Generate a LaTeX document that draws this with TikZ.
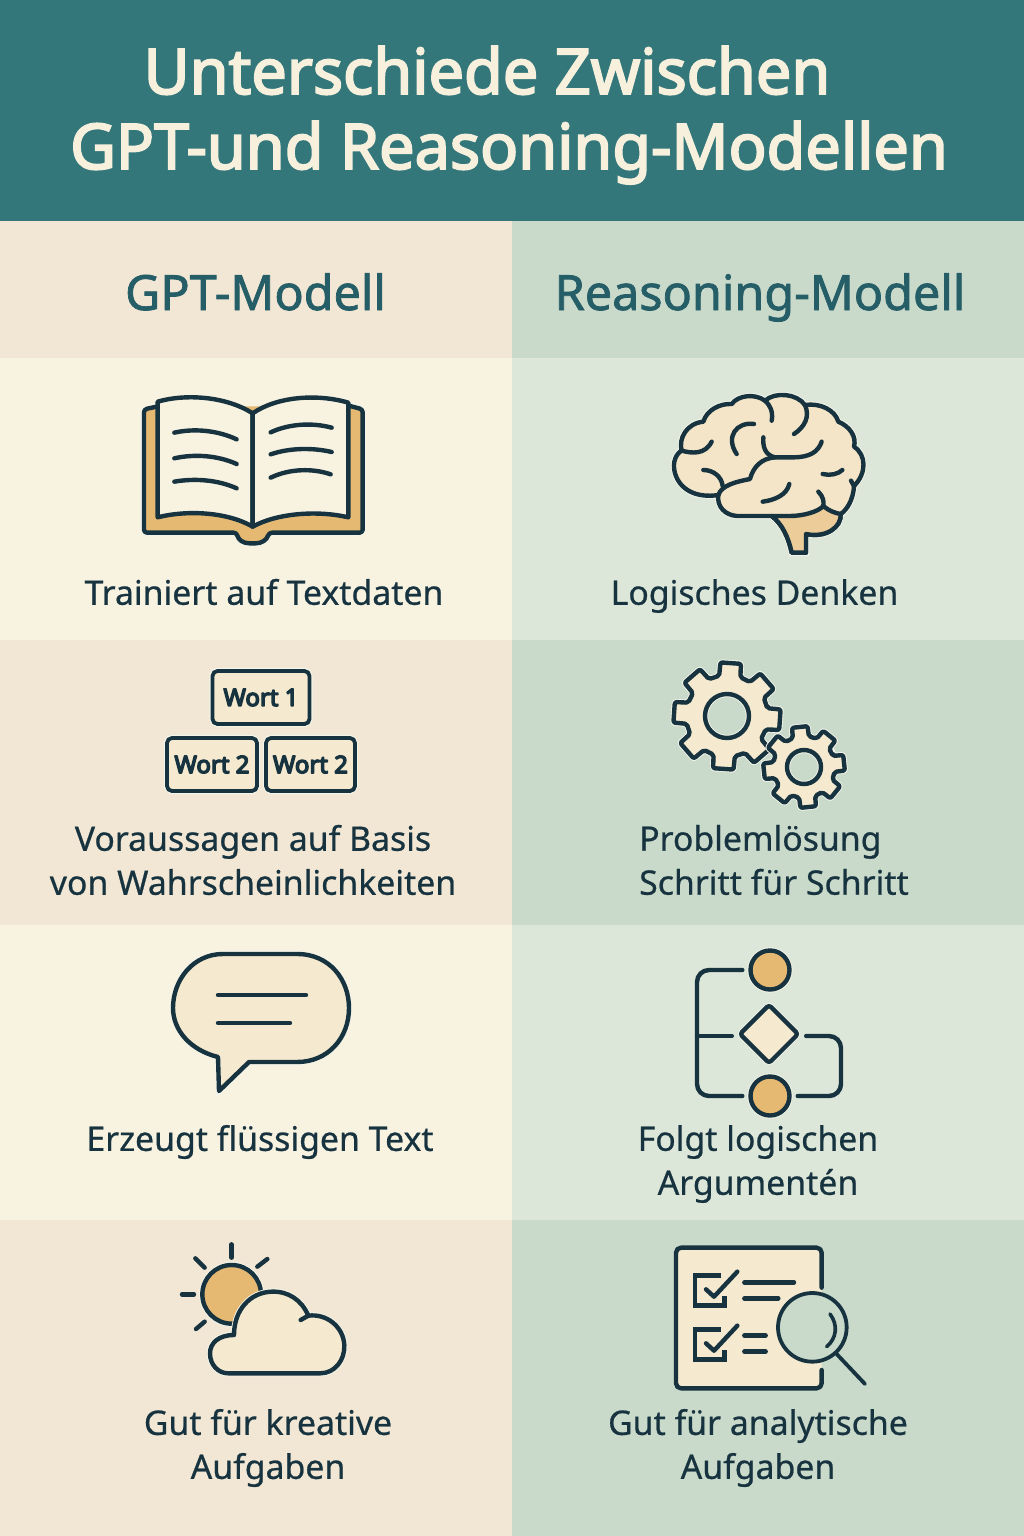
\documentclass[tikz,border=0pt]{standalone}
\usepackage{fontspec}
\setmainfont[FakeBold=0.6]{Noto Sans}
\newfontfamily\titlefont[FakeBold=3]{Noto Sans}
\newfontfamily\headfont[FakeBold=1.6]{Noto Sans}
\newfontfamily\wortfont[FakeBold=6]{Noto Sans}
\usetikzlibrary{calc,shapes.geometric}

\definecolor{titlebg}{HTML}{33777B}
\definecolor{titletext}{HTML}{F6F0DD}
\definecolor{headtext}{HTML}{265E68}
\definecolor{darkink}{HTML}{17333F}
\definecolor{creamL}{HTML}{F8F2E1}
\definecolor{creamD}{HTML}{F2E7D4}
\definecolor{sageL}{HTML}{DDE7D9}
\definecolor{sageD}{HTML}{C9DACB}
\definecolor{ochre}{HTML}{E6B973}
\definecolor{iconfill}{HTML}{F5E9CF}
\definecolor{halo}{HTML}{F4F5EA}

\tikzset{
  bodytext/.style={font=\fontsize{33.8}{44}\selectfont,text=darkink,align=center,inner sep=0pt},
  headtext/.style={font=\headfont\fontsize{48.5}{50}\selectfont,text=headtext,anchor=base,inner sep=0pt},
  titleline/.style={font=\titlefont\fontsize{63}{76}\selectfont,text=titletext,anchor=base,inner sep=0pt},
  icon/.style={draw=darkink,line width=4.4pt,line cap=round,line join=round},
  iconsolid/.style={icon,fill=#1,preaction={draw=halo,line width=6.2pt}},
  wortbox/.style={iconsolid=iconfill,rounded corners=5pt,minimum height=53pt,inner sep=0pt,text=darkink,
    font=\wortfont\fontsize{24}{28}\selectfont,line width=3.8pt},
}

% x y outer root hole rotation
\newcommand{\gearicon}[6]{
  \begin{scope}[shift={(#1,#2)}]
    \draw[iconsolid=iconfill,even odd rule,rounded corners=2pt] ({#6-15}:#4)
      \foreach \a in {0,45,...,315} {
        -- ({#6+\a-11}:#3) -- ({#6+\a+11}:#3) -- ({#6+\a+15}:#4) -- ({#6+\a+30}:#4)
      } -- cycle (0,0) circle (#5);
  \end{scope}
}

\begin{document}
\begin{tikzpicture}[x=1pt,y=-1pt]
  \useasboundingbox (0,0) rectangle (1024,1536);

  % panels
  \fill[titlebg] (0,0) rectangle (1024,221);
  \foreach \ya/\yb/\colleft/\colright in {221/358/creamD/sageD,358/640/creamL/sageL,640/925/creamD/sageD,925/1220/creamL/sageL,1220/1536/creamD/sageD} {
    \fill[\colleft] (0,\ya) rectangle (512,\yb);
    \fill[\colright] (512,\ya) rectangle (1024,\yb);
  }

  % title
  \node[titleline] (titleone) at (487,94) {Unterschiede Zwischen};
  \node[titleline] (titletwo) at (509,169) {GPT-und Reasoning-Modellen};
  \node[headtext] (headgpt) at (255.5,310) {GPT-Modell};
  \node[headtext] (headreason) at (760,310) {Reasoning-Modell};

  % row texts
  \node[bodytext] (textdata) at (264,592) {Trainiert auf Textdaten};
  \node[bodytext] (logic) at (754.5,596) {Logisches Denken};
  \node[bodytext] (predict) at (253,860) {Voraussagen auf Basis\\von Wahrscheinlichkeiten};
  \node[bodytext,align=left,anchor=west] (steps) at (639,860) {Problemlösung\\Schritt für Schritt};
  \node[bodytext] (fluent) at (260,1142) {Erzeugt flüssigen Text};
  \node[bodytext] (follow) at (758,1164) {Folgt logischen\\Argumentén};
  \node[bodytext] (creative) at (268,1448) {Gut für kreative\\Aufgaben};
  \node[bodytext] (analytic) at (758,1448) {Gut für analytische\\Aufgaben};

  % book
  \begin{scope}[shift={(120,380)},scale=1/3]
    \draw[iconsolid=ochre,rounded corners=3pt] (110,80) -- (72,88) -- (72,458) -- (350,458)
      .. controls (355,480) and (370,490) .. (398,490) .. controls (425,490) and (440,480) .. (447,458)
      -- (728,458) -- (728,88) -- (690,78);
    \draw[icon,fill=creamL] (113,65) .. controls (200,40) and (320,50) .. (398,100) -- (398,440)
      .. controls (320,395) and (200,390) .. (113,412) -- cycle;
    \draw[icon,fill=creamL] (398,100) .. controls (470,50) and (590,40) .. (685,68) -- (685,412)
      .. controls (590,390) and (470,400) .. (398,440) -- cycle;
    \draw[icon] (163,158) .. controls (220,145) and (290,150) .. (350,178);
    \draw[icon] (163,235) .. controls (220,222) and (290,225) .. (350,252);
    \draw[icon] (163,305) .. controls (220,295) and (290,298) .. (350,325);
    \draw[icon] (452,157) .. controls (510,130) and (580,128) .. (635,143);
    \draw[icon] (452,223) .. controls (510,203) and (580,203) .. (635,216);
    \draw[icon] (452,293) .. controls (510,265) and (580,265) .. (632,283);
  \end{scope}

  % brain
  \begin{scope}[shift={(650,380)},scale=1/3]
    \draw[iconsolid=iconfill!92!ochre] (95,212) .. controls (85,175) and (110,130) .. (160,125)
      .. controls (170,90) and (210,70) .. (245,72)
      .. controls (265,45) and (315,40) .. (345,62)
      .. controls (375,35) and (440,40) .. (465,75)
      .. controls (510,68) and (555,90) .. (565,125)
      .. controls (600,140) and (620,170) .. (612,200)
      .. controls (650,225) and (650,280) .. (612,318)
      .. controls (610,360) and (590,390) .. (572,402)
      .. controls (575,440) and (530,475) .. (468,462)
      -- (468,518) -- (425,518)
      .. controls (415,470) and (395,430) .. (365,408)
      -- (260,408) .. controls (225,405) and (200,380) .. (205,345)
      .. controls (140,355) and (90,330) .. (75,280)
      .. controls (65,245) and (80,220) .. (95,212) -- cycle;
    \draw[icon,fill=ochre!60!iconfill] (365,408) -- (420,408) .. controls (460,408) and (505,395) .. (520,378)
      .. controls (540,395) and (560,400) .. (572,402)
      .. controls (575,440) and (530,475) .. (468,462)
      -- (468,518) -- (425,518)
      .. controls (415,470) and (395,430) .. (365,408) -- cycle;
    \draw[icon] (95,212) .. controls (125,220) and (165,225) .. (185,185);
    \draw[icon] (160,270) .. controls (190,270) and (215,290) .. (218,318);
    \draw[icon] (205,345) .. controls (215,315) and (260,305) .. (300,297)
      .. controls (310,260) and (335,235) .. (375,232) -- (430,232)
      .. controls (480,232) and (505,215) .. (515,185);
    \draw[icon] (340,172) .. controls (338,200) and (345,225) .. (375,232);
    \draw[icon] (312,132) .. controls (260,125) and (225,170) .. (260,222);
    \draw[icon] (345,62) .. controls (360,75) and (370,95) .. (365,122);
    \draw[icon] (465,75) .. controls (480,110) and (465,140) .. (432,162);
    \draw[icon] (518,282) .. controls (540,288) and (565,282) .. (577,270);
    \draw[icon] (603,302) -- (612,318);
    \draw[icon] (338,365) .. controls (375,360) and (410,345) .. (418,312);
    \draw[icon] (505,335) .. controls (520,350) and (522,365) .. (520,378);
  \end{scope}

  % word boxes
  \node[wortbox,minimum width=97pt] (wortone) at (261,697.5) {Wort 1};
  \node[wortbox,minimum width=90pt] (worttwo) at (212,764.5) {Wort 2};
  \node[wortbox,minimum width=89pt] (wortthree) at (310.5,764.5) {Wort 2};

  % gears
  \gearicon{727}{716}{54}{41}{22}{4}
  \gearicon{804}{767}{41}{31}{17}{-6}

  % speech bubble
  \draw[iconsolid=iconfill] (223,954) -- (297,954) .. controls (330,954) and (349,980) .. (349,1008)
    .. controls (349,1038) and (328,1062) .. (297,1062) -- (249,1062) -- (219,1091) -- (218,1057)
    .. controls (190,1050) and (173,1030) .. (173,1008) .. controls (173,980) and (193,954) .. (223,954) -- cycle;
  \draw[icon] (218,995) -- (306,995);
  \draw[icon] (218,1023) -- (290,1023);

  % flow chart
  \node[circle,iconsolid=ochre,minimum size=39pt,inner sep=0pt] (flowtop) at (770,970) {};
  \node[diamond,iconsolid=iconfill,rounded corners=3pt,minimum size=60pt,inner sep=0pt] (flowdiamond) at (769,1034) {};
  \node[circle,iconsolid=ochre,minimum size=39pt,inner sep=0pt] (flowbottom) at (770,1096) {};
  \coordinate (flowleft) at (697,1036);
  \coordinate (flowright) at (841,1036);
  \draw[icon,rounded corners=12pt,shorten <=6pt,shorten >=6pt] (flowtop.west) -- (697,970) -- (697,1096) -- (flowbottom.west);
  \draw[icon,shorten <=5pt] (flowdiamond.west |- flowleft) -- (flowleft);
  \draw[icon,rounded corners=12pt,shorten <=5pt,shorten >=6pt] (flowdiamond.east |- flowright) -- (flowright) -- (841,1096) -- (flowbottom.east);

  % sun and cloud
  \begin{scope}[shift={(160,1235)},scale=1/3]
    \draw[iconsolid=ochre] (215,178) circle (88);
    \foreach \ax/\ay/\bx/\by in {215/28/215/68,106/70/134/98,322/72/292/95,66/178/102/178,108/282/134/260} {
      \draw[icon] (\ax,\ay) -- (\bx,\by);
    }
    \draw[iconsolid=iconfill] (222,300) .. controls (175,300) and (150,325) .. (150,355)
      .. controls (150,390) and (175,415) .. (205,415) -- (480,415)
      .. controls (525,415) and (555,375) .. (553,330)
      .. controls (550,275) and (500,235) .. (445,242)
      .. controls (425,195) and (385,168) .. (335,170)
      .. controls (270,172) and (222,225) .. (222,300) -- cycle;
    \draw[icon] (445,242) -- (422,255);
  \end{scope}

  % checklist and lens
  \begin{scope}[shift={(660,1235)},scale=1/3]
    \fill[iconfill,rounded corners=5pt] (48,38) rectangle (485,460);
    \draw[icon,rounded corners=5pt] (485,158) -- (485,38) -- (48,38) -- (48,460) -- (485,460) -- (485,405);
    \draw[icon,line width=3.8pt,fill=sageD] (457,277) circle (103);
    \draw[icon,line width=3.8pt] (530,357) -- (615,447);
    \draw[icon,line width=3.6pt] (510,237) .. controls (535,270) and (530,310) .. (500,335);
    \foreach \dy in {0,162} {
      \draw[icon,line join=miter,line cap=butt] (183,122+\dy) -- (105,122+\dy) -- (105,212+\dy) -- (193,212+\dy) -- (193,182+\dy);
      \draw[icon] (138,163+\dy) -- (162,185+\dy) -- (232,110+\dy);
    }
    \draw[icon] (253,142) -- (402,142);
    \draw[icon] (253,190) -- (355,190);
    \draw[icon] (253,302) -- (317,302);
    \draw[icon] (253,350) -- (317,350);
  \end{scope}
\end{tikzpicture}
\end{document}
